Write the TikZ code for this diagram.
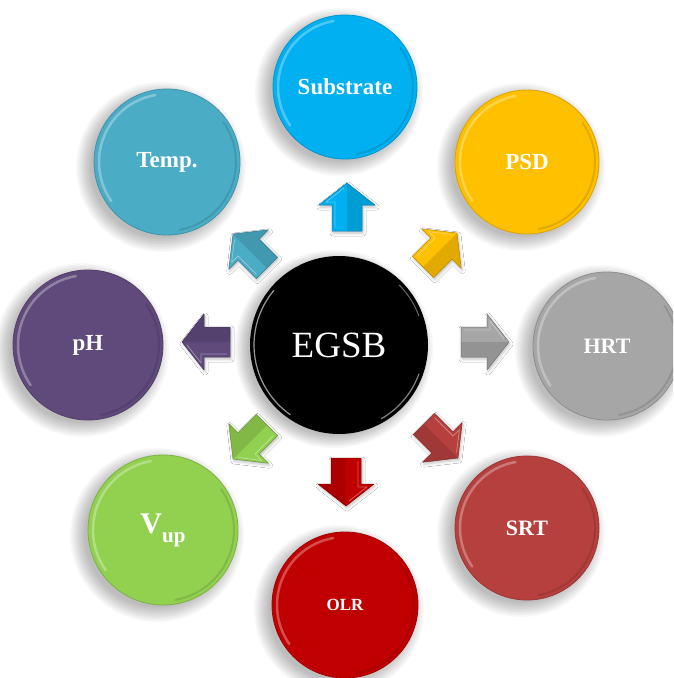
\documentclass[tikz,border=0pt]{standalone}
\usepackage{fontspec}
\setmainfont{Liberation Serif}
\usetikzlibrary{shadows.blur}
\definecolor{csub}{HTML}{00B0F0}
\definecolor{cpsd}{HTML}{FFC000}
\definecolor{chrt}{HTML}{A6A6A6}
\definecolor{csrt}{HTML}{B5403E}
\definecolor{colr}{HTML}{C00000}
\definecolor{cvup}{HTML}{92D050}
\definecolor{cph}{HTML}{604A7B}
\definecolor{ctemp}{HTML}{4BACC6}
\tikzset{
  bubble/.style={circle, inner sep=0pt, fill=#1, draw=#1!85!black, line width=0.8pt,
    text=white, font=\bfseries\fontsize{23}{26}\selectfont},
  softshadow/.style={black, opacity=0.028},
  blockarrow/.style={fill=#1, draw=#1!70!black, line width=0.5pt, line join=round,
    blur shadow={shadow xshift=1pt, shadow yshift=-2pt, shadow blur radius=3pt, shadow opacity=25}},
  arrowshade/.style={fill=#1!75!black, opacity=0.45},
  rimlight/.style={white, opacity=0.3, line width=2.5pt, line cap=round},
  rimdark/.style={#1!55!black, opacity=0.25, line width=2pt, line cap=round},
}
\newcommand\mybubble[6]{% name, x, y, radius, color, text
  \foreach \k in {0,...,9}
    \fill[softshadow] (#2-6,#3-5) circle[radius={#4+12-1.6*\k}];
  \node[bubble=#5, minimum size={2*#4pt}] (#1) at (#2,#3) {#6};
  \draw[rimlight] (#1.center) ++(100:#4-5) arc[start angle=100, end angle=215, radius=#4-5];
  \draw[rimdark=#5] (#1.center) ++(-80:#4-4) arc[start angle=-80, end angle=35, radius=#4-4];
}
\newcommand\mybarrow[3]{% coordinate, angle, color
  \begin{scope}[shift={(#1)}, rotate=#2]
    \filldraw[blockarrow=#3] (-24,-15) -- (2,-15) -- (2,-28) -- (24,0) -- (2,28) -- (2,15) -- (-24,15) -- cycle;
    \fill[arrowshade=#3] (-24,-15) -- (2,-15) -- (2,-28) -- (24,0) -- (-24,0) -- cycle;
    \draw[white, opacity=0.35, line width=0.8pt, line join=round] (-21,12) -- (5,12) -- (5,21) -- (19,3);
  \end{scope}}
\begin{document}
\begin{tikzpicture}[x=1pt, y=1pt]
  \useasboundingbox (0,0) rectangle (673,-678);
  \clip (0,0) rectangle (673,-678);
  \fill[white] (0,0) rectangle (673,-678);

  % outer bubbles
  \mybubble{sub}{345}{-87}{72}{csub}{Substrate}
  \mybubble{psd}{527}{-162}{72}{cpsd}{PSD}
  \mybubble{hrt}{607}{-346}{74}{chrt}{\fontsize{22}{24}\selectfont HRT}
  \mybubble{srt}{527}{-528}{72}{csrt}{\fontsize{22}{24}\selectfont SRT}
  \mybubble{olr}{345}{-605}{73}{colr}{\fontsize{17}{20}\selectfont OLR}
  \mybubble{vup}{163}{-530}{75}{cvup}{{\fontsize{30}{30}\selectfont V}\raisebox{-9pt}{\fontsize{21}{21}\selectfont up}}
  \mybubble{ph}{88}{-345}{75}{cph}{pH}
  \mybubble{temp}{167}{-162}{73}{ctemp}{Temp.}

  % centre
  \foreach \k in {0,...,9}
    \fill[softshadow] (339-5,-345-4) circle[radius={89+10-1.4*\k}];
  \node[circle, inner sep=0pt, minimum size=178pt, fill=black, text=white,
        font=\fontsize{37}{40}\selectfont] (egsb) at (339,-345) {EGSB};
  \draw[white, opacity=0.6, line width=1.2pt, line cap=round] (egsb.center) ++(140:85) arc[start angle=140, end angle=235, radius=85];
  \draw[white, opacity=0.5, line width=1.2pt, line cap=round] (egsb.center) ++(-60:85) arc[start angle=-60, end angle=-20, radius=85];
  \draw[white, opacity=0.4, line width=1pt, line cap=round] (egsb.center) ++(20:85) arc[start angle=20, end angle=45, radius=85];

  % arrows
  \coordinate (aN)  at (347,-207);
  \coordinate (aNE) at (440,-250);
  \coordinate (aE)  at (485,-342);
  \coordinate (aSE) at (441,-441);
  \coordinate (aS)  at (346,-482);
  \coordinate (aSW) at (250,-442);
  \coordinate (aW)  at (206,-342);
  \coordinate (aNW) at (250,-251);
  \mybarrow{aN}{90}{csub}
  \mybarrow{aNE}{45}{cpsd}
  \mybarrow{aE}{0}{chrt}
  \mybarrow{aSE}{-45}{csrt}
  \mybarrow{aS}{-90}{colr}
  \mybarrow{aSW}{-135}{cvup}
  \mybarrow{aW}{180}{cph}
  \mybarrow{aNW}{135}{ctemp}
\end{tikzpicture}
\end{document}
